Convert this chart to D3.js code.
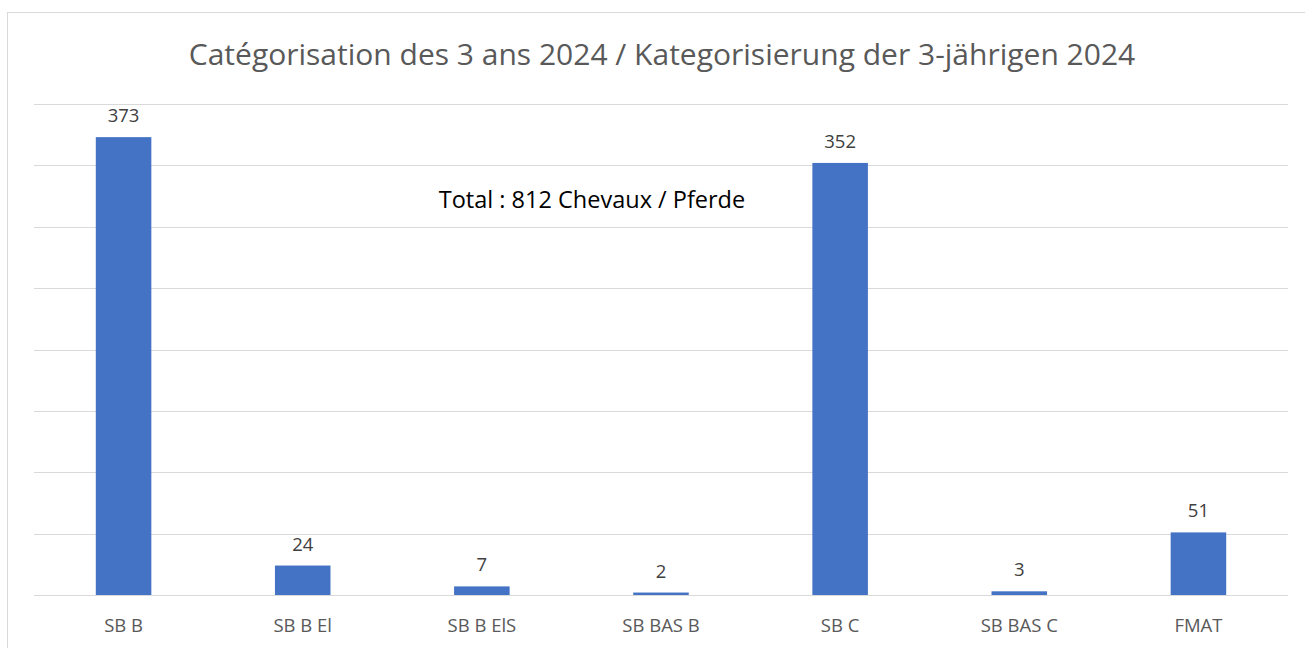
<!DOCTYPE html>
<html>
<head>
<meta charset="utf-8">
<script src="https://cdn.jsdelivr.net/npm/d3@7"></script>
<style>
  body { margin: 0; background: #fff; }
  svg { display: block; font-family: "Open Sans", sans-serif; }
</style>
</head>
<body>
<div id="chart"></div>
<script>
// data
const categories = ["SB B", "SB B El", "SB B ElS", "SB BAS B", "SB C", "SB BAS C", "FMAT"];
const counts = [373, 24, 7, 2, 352, 3, 51];
const yTicks = [0, 50, 100, 150, 200, 250, 300, 350, 400];
const title = "Catégorisation des 3 ans 2024 / Kategorisierung der 3-jährigen 2024";
const note = "Total : 812 Chevaux / Pferde";

const width = 1305, height = 648;
const margin = {top: 104, right: 17, bottom: 53, left: 34};

const svg = d3.select("#chart").append("svg")
    .attr("width", width)
    .attr("height", height);

// chart area border
svg.append("rect")
    .attr("x", 7.5).attr("y", 12.5)
    .attr("width", width + 10).attr("height", height + 10)
    .attr("fill", "none")
    .attr("stroke", "#d9d9d9");

const x = d3.scaleBand()
    .domain(categories)
    .range([margin.left, width - margin.right])
    .paddingInner(0.69)
    .paddingOuter(0.345);

const y = d3.scaleLinear()
    .domain([0, 400])
    .range([height - margin.bottom, margin.top]);

// gridlines
svg.append("g")
    .selectAll("line")
    .data(yTicks)
    .join("line")
    .attr("x1", margin.left)
    .attr("x2", width - margin.right)
    .attr("y1", d => Math.round(y(d)) + 0.5)
    .attr("y2", d => Math.round(y(d)) + 0.5)
    .attr("stroke", "#d9d9d9")
    .attr("stroke-width", 1);

// bars
svg.append("g")
    .selectAll("rect")
    .data(counts)
    .join("rect")
    .attr("x", (d, i) => x(categories[i]))
    .attr("width", x.bandwidth())
    .attr("y", d => y(d))
    .attr("height", d => y(0) - y(d))
    .attr("fill", "#4472c4");

// value labels
svg.append("g")
    .selectAll("text")
    .data(counts)
    .join("text")
    .attr("x", (d, i) => x(categories[i]) + x.bandwidth() / 2)
    .attr("y", d => y(d) - 15)
    .attr("text-anchor", "middle")
    .attr("font-size", 18.5)
    .attr("fill", "#404040")
    .text(d => d);

// category axis
const xAxis = svg.append("g")
    .attr("transform", `translate(0,${y(0)})`)
    .call(d3.axisBottom(x).tickSize(0));
xAxis.select(".domain").remove();
xAxis.selectAll("text")
    .attr("y", 37)
    .attr("dy", null)
    .attr("font-size", 18.5)
    .attr("font-family", "Open Sans, sans-serif")
    .attr("fill", "#595959");

// title
svg.append("text")
    .attr("x", 662)
    .attr("y", 65)
    .attr("text-anchor", "middle")
    .attr("font-size", 30)
    .attr("fill", "#595959")
    .text(title);

// annotation
svg.append("text")
    .attr("x", 592)
    .attr("y", 208)
    .attr("text-anchor", "middle")
    .attr("font-size", 23.5)
    .attr("fill", "#000")
    .text(note);
</script>
</body>
</html>
